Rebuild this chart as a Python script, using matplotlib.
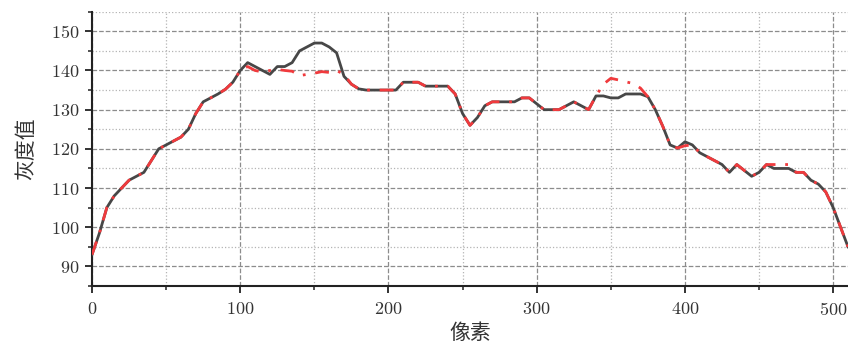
import matplotlib
matplotlib.use("Agg")
import matplotlib.pyplot as plt
from matplotlib.ticker import MultipleLocator

# gray profile sampled every 5 px along the line
pixel = list(range(0, 511, 5))
gray_raw = [93, 98.5, 105, 108, 110, 112, 113, 114, 117, 120,
            121, 122, 123, 125, 129, 132, 133, 134, 135.2, 137,
            140, 142, 141, 140, 139, 141, 141, 142, 145, 146,
            147, 147, 146, 144.5, 138.5, 136.5, 135.3, 135, 135, 135,
            135, 135, 137, 137, 137, 136, 136, 136, 136, 134,
            129, 126, 128, 131, 132, 132, 132, 132, 133, 133,
            131.5, 130, 130, 130, 131, 132, 131, 130, 133.5, 133.5,
            133, 133, 134, 134, 134, 133.3, 130, 125.8, 121, 120.2,
            121.8, 121, 119, 118, 117, 116, 114, 116, 114.5, 113,
            114, 116, 115, 115, 115, 114, 114, 112, 111, 109,
            105, 100, 95]

# corrected profile: same samples, with the spikes replaced
gray_fixed = list(gray_raw)
fixes = {105: 141, 110: 140, 115: 139.6, 120: 140, 125: 140.3, 130: 140,
         135: 139.8, 140: 138.7, 145: 139, 150: 139.3, 155: 139.7,
         160: 139.5, 165: 140, 170: 139,
         345: 136.5, 350: 138, 355: 137.6, 360: 137.1, 365: 136.7, 370: 135.5,
         400: 120.8, 405: 121,
         455: 116, 460: 116, 465: 116, 470: 116}
for px, val in fixes.items():
    gray_fixed[pixel.index(px)] = val

plt.rcParams['font.family'] = ['cmr10', 'DejaVu Serif']
plt.rcParams['axes.formatter.use_mathtext'] = True

fig = plt.figure(figsize=(8.48, 3.44), dpi=100)
ax = fig.add_axes([0.1085, 0.1686, 0.8915, 0.7974])

ax.plot(pixel, gray_raw, color='#474747', lw=2.0, zorder=3)
ax.plot(pixel, gray_fixed, color='#f03a3d', lw=2.0, zorder=4,
        linestyle=(0, (5, 3.5, 1, 3.5)))

ax.set_xlim(0, 510)
ax.set_ylim(85, 155)
ax.xaxis.set_major_locator(MultipleLocator(100))
ax.xaxis.set_minor_locator(MultipleLocator(50))
ax.yaxis.set_major_locator(MultipleLocator(10))
ax.yaxis.set_minor_locator(MultipleLocator(5))

ax.grid(which='major', linestyle='--', color='#8c8c8c', lw=0.9)
ax.grid(which='minor', linestyle=':', color='#b4b4b4', lw=0.9)
ax.set_axisbelow(True)

for side in ['top', 'right']:
    ax.spines[side].set_visible(False)
for side in ['left', 'bottom']:
    ax.spines[side].set_linewidth(1.5)
    ax.spines[side].set_color('#222222')

ax.tick_params(which='major', length=5, width=1.3, labelsize=13, colors='#222222')
ax.tick_params(which='minor', length=3, width=1.1, colors='#222222')
ax.tick_params(axis='x', labelcolor='#333333', pad=6)
ax.tick_params(axis='y', labelcolor='#333333', pad=4)

cjk = ['Noto Sans CJK SC', 'DejaVu Sans']
ax.set_xlabel('像素', family=cjk, fontsize=15, color='#333333', labelpad=3)
ax.set_ylabel('灰度值', family=cjk, fontsize=15, color='#333333', labelpad=10)

fig.savefig('out.png', dpi=100)
